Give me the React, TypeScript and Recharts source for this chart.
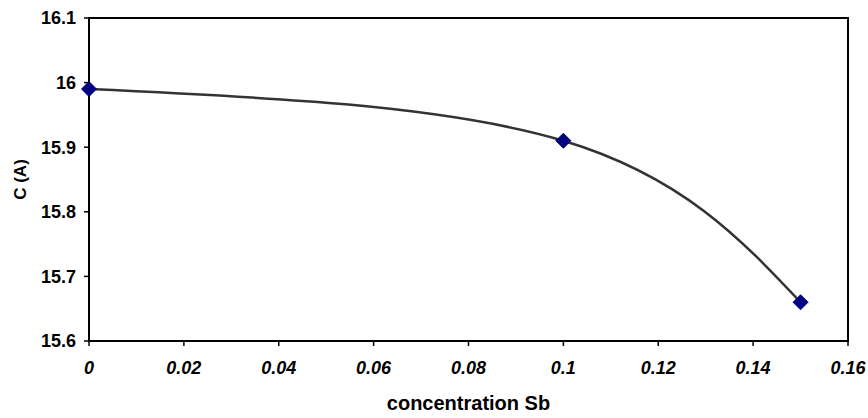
import React from 'react'
import { LineChart, Line, XAxis, YAxis, ReferenceArea, Label } from 'recharts'

const concentration = [0, 0.1, 0.15]
const latticeC = [15.99, 15.91, 15.66]
const xTicks = [0, 0.02, 0.04, 0.06, 0.08, 0.1, 0.12, 0.14, 0.16]
const yTicks = [15.6, 15.7, 15.8, 15.9, 16, 16.1]

const data = concentration.map((x, i) => ({ x, c: latticeC[i] }))

const FONT = '"Liberation Sans", Arial, sans-serif'

function Diamond(props: any) {
  const { cx, cy } = props
  if (cx == null || cy == null) return null
  const r = 7.5
  return (
    <polygon
      points={`${cx},${cy - r} ${cx + r},${cy} ${cx},${cy + r} ${cx - r},${cy}`}
      fill="#000080"
      stroke="#000080"
    />
  )
}

export default function App() {
  return (
    <div style={{ position: 'absolute', left: 0, top: 0, width: 868, height: 418, background: '#fff' }}>
      <LineChart
        width={868}
        height={418}
        data={data}
        margin={{ top: 18, right: 20, bottom: 17, left: 0 }}
      >
        <XAxis
          dataKey="x"
          type="number"
          domain={[0, 0.16]}
          ticks={xTicks}
          height={60}
          axisLine={{ stroke: '#000', strokeWidth: 2 }}
          tickLine={{ stroke: '#000', strokeWidth: 1.5 }}
          tickSize={5}
          tickMargin={15}
          tick={{ fill: '#000', fontSize: 18, fontWeight: 'bold', fontStyle: 'italic', fontFamily: FONT }}
        >
          <Label
            value="concentration Sb"
            position="insideBottom"
            offset={-9}
            style={{ fill: '#000', fontSize: 20, fontWeight: 'bold', fontFamily: FONT }}
          />
        </XAxis>
        <YAxis
          type="number"
          domain={[15.6, 16.1]}
          ticks={yTicks}
          width={89}
          axisLine={{ stroke: '#000', strokeWidth: 2 }}
          tickLine={{ stroke: '#000', strokeWidth: 1.5 }}
          tickSize={5}
          tickMargin={8}
          tick={{ fill: '#000', fontSize: 18, fontWeight: 'bold', fontFamily: FONT }}
        >
          <Label
            value="C (A)"
            angle={-90}
            position="insideLeft"
            offset={20}
            style={{ fill: '#000', fontSize: 17, fontWeight: 'bold', fontFamily: FONT, textAnchor: 'middle' }}
          />
        </YAxis>
        <ReferenceArea
          x1={0}
          x2={0.16}
          y1={15.6}
          y2={16.1}
          fill="none"
          stroke="#000"
          strokeWidth={2}
          fillOpacity={0}
        />
        <Line
          dataKey="c"
          type="natural"
          stroke="#333333"
          strokeWidth={2.5}
          dot={<Diamond />}
          activeDot={false}
          isAnimationActive={false}
        />
      </LineChart>
    </div>
  )
}
